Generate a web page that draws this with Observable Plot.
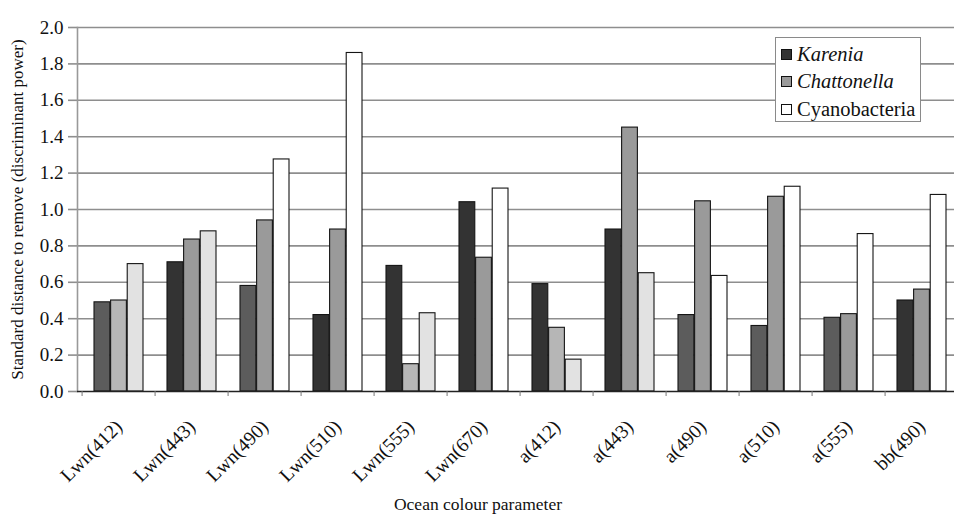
<!DOCTYPE html>
<html>
<head>
<meta charset="utf-8">
<script src="https://cdn.jsdelivr.net/npm/d3@7"></script>
<script src="https://cdn.jsdelivr.net/npm/@observablehq/plot@0.6"></script>
<style>
  html, body { margin: 0; padding: 0; background: #fff; overflow: hidden; }
  #wrap { position: relative; width: 954px; height: 515px; font-family: "Liberation Serif", "DejaVu Serif", serif; }
  #legend { position: absolute; left: 775px; top: 37px; width: 146px; height: 85px; border: 1.5px solid #8a8a8a; background: #fff; box-sizing: border-box; font-size: 20.5px; color: #111; }
  #legend .row { position: absolute; left: 5px; height: 22px; display: flex; align-items: center; }
  #legend .sw { width: 11px; height: 11px; border: 1px solid #111; margin-right: 5px; box-sizing: border-box; }
</style>
</head>
<body>
<div id="wrap"></div>
<script>
const params = ["Lwn(412)","Lwn(443)","Lwn(490)","Lwn(510)","Lwn(555)","Lwn(670)","a(412)","a(443)","a(490)","a(510)","a(555)","bb(490)"];
const seriesNames = ["Karenia","Chattonella","Cyanobacteria"];
const karenia     = [0.49, 0.71, 0.58, 0.42, 0.69, 1.04, 0.59, 0.89, 0.42, 0.36, 0.405, 0.50];
const chattonella = [0.50, 0.835, 0.94, 0.89, 0.15, 0.735, 0.35, 1.45, 1.045, 1.07, 0.425, 0.56];
const cyano       = [0.70, 0.88, 1.275, 1.86, 0.43, 1.115, 0.175, 0.65, 0.635, 1.125, 0.865, 1.08];
// 1 = solid shading, 0 = lighter/stippled shading in the reference
const kareniaSolid     = [0,1,0,1,1,1,1,1,0,0,0,1];
const chattonellaSolid = [0,1,1,1,0,1,0,1,1,1,1,1];
const cyanoSolid       = [0,0,1,1,0,1,0,0,1,1,1,1];
const yTicks = [0,0.2,0.4,0.6,0.8,1.0,1.2,1.4,1.6,1.8,2.0];
const yLabel = "Standard distance to remove (discriminant power)";
const xLabel = "Ocean colour parameter";

const values = [karenia, chattonella, cyano];
const solid = [kareniaSolid, chattonellaSolid, cyanoSolid];
const rows = params.flatMap((p, i) => seriesNames.map((s, j) => ({
  param: p, series: s, value: values[j][i], key: s + (solid[j][i] ? "" : " ns")
})));

const colorDomain = ["Karenia","Karenia ns","Chattonella","Chattonella ns","Cyanobacteria","Cyanobacteria ns"];
const colorRange  = ["#333333","#5c5c5c","#9a9a9a","#b6b6b6","#ffffff","#e2e2e2"];

const x0 = 77, x1 = 963;
const step = (x1 - x0) / params.length;
const pad = 12, bw = (step - 2 * pad) / 3;

const barMarks = seriesNames.map((s, j) => Plot.barY(rows.filter(d => d.series === s), {
  x: "param", y: "value", fill: "key", stroke: "#151515", strokeWidth: 1.1,
  insetLeft: pad + j * bw, insetRight: step - pad - (j + 1) * bw
}));

const chart = Plot.plot({
  width: 954,
  height: 515,
  marginLeft: 77,
  marginRight: 0,
  marginTop: 27,
  marginBottom: 124,
  style: {fontFamily: "'Liberation Serif', serif", fontSize: "19px", color: "#111", background: "#fff"},
  x: {domain: params, range: [x0, x1], padding: 0},
  y: {domain: [0, 2], ticks: yTicks},
  color: {domain: colorDomain, range: colorRange},
  marks: [
    Plot.ruleY(yTicks.slice(1), {stroke: "#8e8e8e", strokeWidth: 1.6}),
    Plot.axisY({ticks: yTicks, tickFormat: d3.format(".1f"), tickSize: 9, tickPadding: 5, stroke: "#8e8e8e", strokeWidth: 1.6, fontSize: 19, label: null}),
    Plot.frame({anchor: "left", stroke: "#999", strokeWidth: 1.6}),
    ...barMarks,
    Plot.ruleY([0], {stroke: "#222", strokeWidth: 1.4}),
    Plot.axisX({tickSize: 5, tickFormat: () => "", dx: -step / 2, stroke: "#777", label: null}),
    Plot.axisX({tickSize: 0, tickRotate: -45, tickPadding: 32, fontSize: 19.5, label: null}),
    Plot.text([yLabel], {frameAnchor: "left", text: d => d, rotate: -90, dx: -60, lineAnchor: "middle", textAnchor: "middle", fontSize: 17, fill: "#111"}),
    Plot.text([xLabel], {frameAnchor: "bottom", text: d => d, dx: -38, dy: 113, lineAnchor: "middle", textAnchor: "middle", fontSize: 17.5, fill: "#111"})
  ]
});

const wrap = document.getElementById("wrap");
wrap.appendChild(chart);

const legend = document.createElement("div");
legend.id = "legend";
const legendFill = ["#333333", "#9a9a9a", "#ffffff"];
seriesNames.forEach((s, j) => {
  const row = document.createElement("div");
  row.className = "row";
  row.style.top = (5 + j * 27.5) + "px";
  const sw = document.createElement("div");
  sw.className = "sw";
  sw.style.background = legendFill[j];
  const t = document.createElement("span");
  t.textContent = s;
  if (j < 2) t.style.fontStyle = "italic";
  row.appendChild(sw); row.appendChild(t);
  legend.appendChild(row);
});
wrap.appendChild(legend);
</script>
</body>
</html>
